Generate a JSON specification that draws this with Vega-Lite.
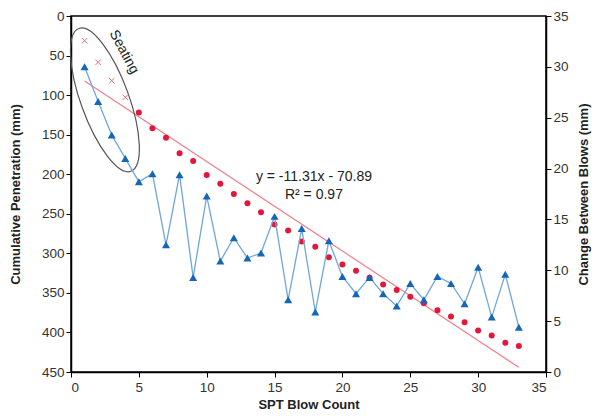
{
  "$schema": "https://vega.github.io/schema/vega-lite/v6.json",
  "width": 475,
  "height": 356,
  "autosize": {"type": "none"},
  "padding": {"left": 71, "top": 16, "right": 54, "bottom": 44},
  "config": {
    "view": {"stroke": "#000", "strokeWidth": 1.5},
    "axis": {
      "labelFont": "Liberation Sans",
      "titleFont": "Liberation Sans",
      "labelFontSize": 13.5,
      "titleFontSize": 13,
      "labelColor": "#333",
      "titleColor": "#222",
      "titleFontWeight": "bold",
      "domainColor": "#000",
      "domainWidth": 1.5,
      "tickColor": "#000",
      "tickSize": 5,
      "grid": false
    }
  },
  "datasets": {
    "pen": [
      {"blow": 1, "pen": 31.2, "kind": "seating"},
      {"blow": 2, "pen": 58.5, "kind": "seating"},
      {"blow": 3, "pen": 81.8, "kind": "seating"},
      {"blow": 4, "pen": 102.8, "kind": "seating"},
      {"blow": 5, "pen": 122, "kind": "test"},
      {"blow": 6, "pen": 142, "kind": "test"},
      {"blow": 7, "pen": 154, "kind": "test"},
      {"blow": 8, "pen": 173.6, "kind": "test"},
      {"blow": 9, "pen": 183.3, "kind": "test"},
      {"blow": 10, "pen": 201, "kind": "test"},
      {"blow": 11, "pen": 212, "kind": "test"},
      {"blow": 12, "pen": 225, "kind": "test"},
      {"blow": 13, "pen": 236.8, "kind": "test"},
      {"blow": 14, "pen": 248, "kind": "test"},
      {"blow": 15, "pen": 263.5, "kind": "test"},
      {"blow": 16, "pen": 271, "kind": "test"},
      {"blow": 17, "pen": 285, "kind": "test"},
      {"blow": 18, "pen": 291.6, "kind": "test"},
      {"blow": 19, "pen": 305, "kind": "test"},
      {"blow": 20, "pen": 314, "kind": "test"},
      {"blow": 21, "pen": 322, "kind": "test"},
      {"blow": 22, "pen": 331, "kind": "test"},
      {"blow": 23, "pen": 339.5, "kind": "test"},
      {"blow": 24, "pen": 346.5, "kind": "test"},
      {"blow": 25, "pen": 355, "kind": "test"},
      {"blow": 26, "pen": 363, "kind": "test"},
      {"blow": 27, "pen": 372, "kind": "test"},
      {"blow": 28, "pen": 380, "kind": "test"},
      {"blow": 29, "pen": 387, "kind": "test"},
      {"blow": 30, "pen": 397.5, "kind": "test"},
      {"blow": 31, "pen": 404, "kind": "test"},
      {"blow": 32, "pen": 413, "kind": "test"},
      {"blow": 33, "pen": 417, "kind": "test"}
    ],
    "trend": [
      {"blow": 1, "pen": 82.2},
      {"blow": 33, "pen": 444.1}
    ],
    "notes": [
      {"blow": 17.9, "pen": 204, "label": "y = -11.31x - 70.89", "kind": "eq"},
      {"blow": 17.9, "pen": 226, "label": "R² = 0.97", "kind": "eq"},
      {"blow": 3.9, "pen": 45.5, "label": "Seating", "kind": "seat"}
    ],
    "ellipse": [
      {"blow": 2.5, "pen": 106}
    ],
    "change": [
      {"blow": 1, "change": 30.0},
      {"blow": 2, "change": 26.6},
      {"blow": 3, "change": 23.3},
      {"blow": 4, "change": 21.0},
      {"blow": 5, "change": 18.7},
      {"blow": 6, "change": 19.5},
      {"blow": 7, "change": 12.5},
      {"blow": 8, "change": 19.4},
      {"blow": 9, "change": 9.3},
      {"blow": 10, "change": 17.3},
      {"blow": 11, "change": 10.9},
      {"blow": 12, "change": 13.2},
      {"blow": 13, "change": 11.2},
      {"blow": 14, "change": 11.7},
      {"blow": 15, "change": 15.3},
      {"blow": 16, "change": 7.1},
      {"blow": 17, "change": 14.1},
      {"blow": 18, "change": 5.9},
      {"blow": 19, "change": 12.9},
      {"blow": 20, "change": 9.4},
      {"blow": 21, "change": 7.7},
      {"blow": 22, "change": 9.3},
      {"blow": 23, "change": 7.7},
      {"blow": 24, "change": 6.5},
      {"blow": 25, "change": 8.7},
      {"blow": 26, "change": 7.1},
      {"blow": 27, "change": 9.4},
      {"blow": 28, "change": 8.7},
      {"blow": 29, "change": 6.7},
      {"blow": 30, "change": 10.3},
      {"blow": 31, "change": 5.4},
      {"blow": 32, "change": 9.6},
      {"blow": 33, "change": 4.4}
    ]
  },
  "layer": [
    {
      "encoding": {
        "x": {
          "field": "blow", "type": "quantitative",
          "scale": {"domain": [0, 35], "nice": false},
          "axis": {"title": "SPT Blow Count", "values": [0, 5, 10, 15, 20, 25, 30, 35], "labelPadding": 3, "titlePadding": 5}
        },
        "y": {
          "field": "pen", "type": "quantitative",
          "scale": {"domain": [0, 450], "reverse": true, "nice": false},
          "axis": {"title": "Cumulative Penetration (mm)", "orient": "left", "values": [0, 50, 100, 150, 200, 250, 300, 350, 400, 450], "titlePadding": 19}
        }
      },
      "layer": [
        {
          "data": {"name": "trend"},
          "mark": {"type": "line", "color": "#f07f8a", "strokeWidth": 1.2}
        },
        {
          "data": {"name": "ellipse"},
          "mark": {
            "type": "point",
            "shape": "M 0,-1 C 0.1745,-1 0.316,-0.5523 0.316,0 C 0.316,0.5523 0.1745,1 0,1 C -0.1745,1 -0.316,0.5523 -0.316,0 C -0.316,-0.5523 -0.1745,-1 0,-1 Z",
            "size": 23104,
            "angle": -20,
            "filled": false,
            "stroke": "#555",
            "strokeWidth": 1.2,
            "opacity": 1
          }
        },
        {
          "data": {"name": "pen"},
          "transform": [{"filter": "datum.kind == 'seating'"}],
          "mark": {
            "type": "point",
            "shape": "M -1,-1 L 1,1 M -1,1 L 1,-1",
            "size": 30,
            "filled": false,
            "stroke": "#ef6b78",
            "strokeWidth": 1,
            "opacity": 1
          }
        },
        {
          "data": {"name": "pen"},
          "transform": [{"filter": "datum.kind == 'test'"}],
          "mark": {"type": "circle", "size": 36, "color": "#e3173a", "opacity": 1}
        },
        {
          "data": {"name": "notes"},
          "transform": [{"filter": "datum.kind == 'eq'"}],
          "mark": {"type": "text", "font": "Liberation Sans", "fontSize": 14, "color": "#222", "align": "center", "baseline": "middle"},
          "encoding": {"text": {"field": "label"}}
        },
        {
          "data": {"name": "notes"},
          "transform": [{"filter": "datum.kind == 'seat'"}],
          "mark": {"type": "text", "font": "Liberation Sans", "fontSize": 14, "color": "#222", "align": "center", "baseline": "middle", "angle": 62},
          "encoding": {"text": {"field": "label"}}
        }
      ]
    },
    {
      "data": {"name": "change"},
      "encoding": {
        "x": {"field": "blow", "type": "quantitative", "scale": {"domain": [0, 35], "nice": false}},
        "y": {
          "field": "change", "type": "quantitative",
          "scale": {"domain": [0, 35], "nice": false},
          "axis": {"title": "Change Between Blows (mm)", "orient": "right", "values": [0, 5, 10, 15, 20, 25, 30, 35], "titleAngle": 270, "titlePadding": 22}
        }
      },
      "layer": [
        {"mark": {"type": "line", "color": "#6fa6dc", "strokeWidth": 1.3}},
        {"mark": {"type": "point", "shape": "triangle-up", "size": 65, "filled": true, "color": "#1466b8", "opacity": 1}}
      ]
    }
  ],
  "resolve": {"scale": {"y": "independent"}}
}
